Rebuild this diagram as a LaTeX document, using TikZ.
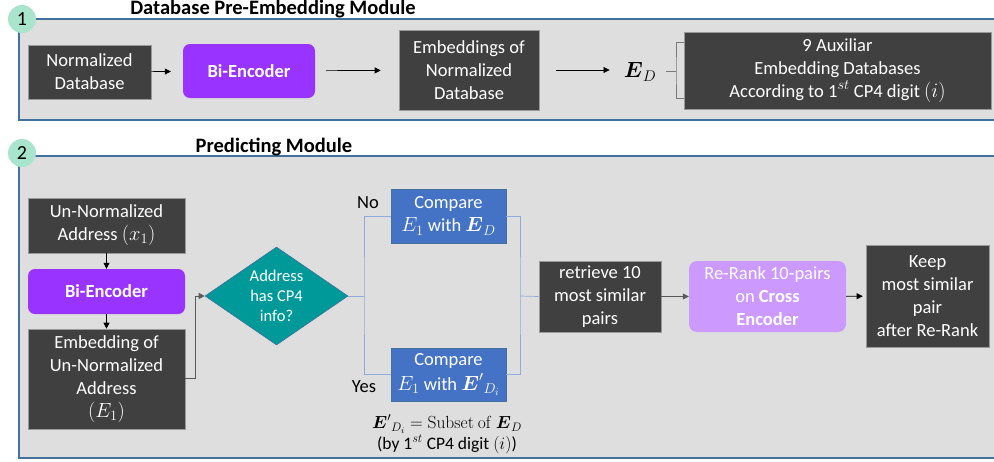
\RequirePackage{fix-cm}
\documentclass[tikz,border=0pt]{standalone}
\usepackage{amsmath}
\usepackage[no-math]{fontspec}
\setmainfont{Carlito}
\usetikzlibrary{shapes.geometric,arrows.meta}
\definecolor{panelfill}{HTML}{DEDEDE}
\definecolor{panelborder}{HTML}{41719C}
\definecolor{darkfill}{HTML}{404040}
\definecolor{purplefill}{HTML}{9933FF}
\definecolor{lpurplefill}{HTML}{CC99FF}
\definecolor{tealfill}{HTML}{009999}
\definecolor{bluefill}{HTML}{4472C4}
\definecolor{mint}{HTML}{A9E5CC}
\definecolor{linegray}{HTML}{595959}
\definecolor{lineblue}{HTML}{8FAADC}
\newcommand\mth[1]{{\fontsize{20.5}{22}\selectfont$#1$}}
\tikzset{
  txt/.style={font=\fontsize{18.5}{23}\selectfont, align=center, inner sep=1pt},
  darkbox/.style={txt, fill=darkfill, draw=black!40, line width=0.6pt, text=white},
  encbox/.style={txt, fill=purplefill, rounded corners=7pt, text=white, font=\fontsize{18.5}{22.5}\selectfont\bfseries},
  lencbox/.style={txt, fill=lpurplefill, rounded corners=8pt, text=white},
  cmpbox/.style={txt, fill=bluefill, draw=panelborder, line width=0.8pt, text=white},
  decision/.style={diamond, aspect=1.46, inner sep=0pt, fill=tealfill, draw=panelborder, line width=0.6pt, text=white, align=center, font=\fontsize{16.5}{20}\selectfont},
  numcirc/.style={circle, fill=mint, minimum size=28pt, inner sep=0pt, font=\fontsize{20}{24}\selectfont},
  ttl/.style={font=\fontsize{20.5}{24}\selectfont\bfseries, inner sep=0pt},
  arr/.style={-{Triangle[length=6pt,width=6pt]}, line width=0.7pt, draw=black},
  garr/.style={-{Triangle[length=6pt,width=6pt]}, line width=0.7pt, draw=linegray},
  bline/.style={line width=0.9pt, draw=linegray!80},
  blueline/.style={line width=0.7pt, draw=lineblue},
  lbl/.style={font=\fontsize{18.5}{22}\selectfont, inner sep=0pt},
}
\begin{document}
\begin{tikzpicture}[x=1pt,y=-1pt]
\useasboundingbox (0,0) rectangle (994,461);
% panels
\fill[panelfill] (19,19) rectangle (994,120);
\draw[panelborder, line width=2pt] (994,19) -- (19,19) -- (19,120) -- (994,120);
\fill[panelfill] (19,156) rectangle (994,458);
\draw[panelborder, line width=2pt] (994,156) -- (19,156) -- (19,458) -- (994,458);
\node[numcirc] (n1) at (22,19) {1};
\node[numcirc] (n2) at (22,153) {2};
\node[ttl] (t1) at (273,9.5) {Database Pre-Embedding Module};
\node[ttl] (t2) at (274,147) {Predicting Module};

% module 1
\node[darkbox, minimum width=123pt, minimum height=54pt] (nd) at (89.5,72) {Normalized\\Database};
\node[encbox, minimum width=132pt, minimum height=54pt] (be1) at (249,71) {Bi-Encoder};
\node[darkbox, minimum width=140pt, minimum height=80pt] (emb) at (469,70) {Embeddings of\\Normalized\\Database};
\node[inner sep=0pt, font=\fontsize{22}{24}\selectfont] (ed) at (640,72) {$\boldsymbol{E}_D$};
\node[darkbox, minimum width=307pt, minimum height=77pt] (aux) at (837.5,70.5) {9 Auxiliar\\Embedding Databases\\According to 1\mth{^{st}} CP4 digit \mth{(i)}};
\coordinate (brk) at (676,71);
\draw[arr, shorten >=12pt] (nd) -- (be1);
\draw[arr, shorten <=11pt, shorten >=18pt] (be1) -- (emb);
\draw[arr, shorten <=17pt, shorten >=14pt] (emb.east) -- (ed.west |- emb.east);
\draw[bline] ([xshift=10pt]ed.east |- brk) -- (brk);
\draw[bline] ([yshift=28pt]aux.west) -| (brk) |- ([yshift=-28pt]aux.west);

% module 2
\node[darkbox, minimum width=157pt, minimum height=55pt] (un) at (106.5,225.5) {Un-Normalized\\Address \mth{(x_1)}};
\node[encbox, minimum width=157pt, minimum height=45pt] (be2) at (106.5,291.5) {Bi-Encoder};
\node[darkbox, minimum width=157pt, minimum height=100pt] (emb2) at (106.5,379) {Embedding of\\Un-Normalized\\Address\\\mth{(E_1)}};
\node[decision, minimum width=143pt, minimum height=98pt] (dia) at (276.5,296) {Address\\has CP4\\info?};
\node[cmpbox, minimum width=115pt, minimum height=54pt] (c1) at (448.5,216) {Compare\\\mth{E_1} with \mth{\boldsymbol{E}_D}};
\node[cmpbox, minimum width=115pt, minimum height=53pt, font=\fontsize{18.5}{25}\selectfont] (c2) at (448.5,374.5) {Compare\\\mth{E_1} with \mth{{\boldsymbol{E}'}_{D_i}}};
\node[darkbox, minimum width=122pt, minimum height=71pt] (ret) at (600,296.5) {retrieve 10\\most similar\\pairs};
\node[lencbox, minimum width=157pt, minimum height=71pt] (rr) at (767.5,296.5) {Re-Rank 10-pairs\\on \textbf{Cross}\\\textbf{Encoder}};
\node[darkbox, minimum width=123pt, minimum height=102pt] (keep) at (927.5,296) {Keep\\most similar\\pair\\after Re-Rank};
\node[lbl] (no) at (368,203) {No};
\node[lbl] (yes) at (364,387) {Yes};
\node[align=center, inner sep=0pt, font=\fontsize{17.5}{20.5}\selectfont] (note) at (447,434) {${\boldsymbol{E}'}_{D_i} = \mathrm{Subset\ of}\ \boldsymbol{E}_D$\\(by 1$^{st}$ CP4 digit $(i)$)};

\coordinate (sp) at (364,296);
\coordinate (jn) at (520,296);
\draw[arr] (un) -- (be2);
\draw[arr] (be2) -- (emb2);
\draw[garr] (emb2.east |- 0,378) -- (195,378) |- (dia.west);
\draw[blueline] (dia.east) -- (sp);
\draw[blueline] (c1.west) -| (sp) |- (c2.west);
\draw[blueline] (c1.east) -| (jn) |- (c2.east);
\draw[blueline] (jn) -- (ret.west);
\draw[garr] (ret) -- (rr);
\draw[arr, shorten >=3pt] (rr) -- (keep);
\end{tikzpicture}
\end{document}
